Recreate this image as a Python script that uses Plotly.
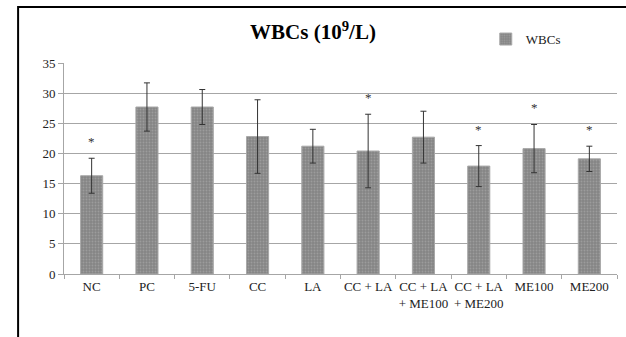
import plotly.graph_objects as go

categories = ["NC", "PC", "5-FU", "CC", "LA", "CC + LA", "CC + LA<br>+ ME100",
              "CC + LA<br>+ ME200", "ME100", "ME200"]
wbc_values = [16.3, 27.7, 27.7, 22.8, 21.2, 20.4, 22.7, 17.9, 20.8, 19.1]
wbc_errors = [2.9, 4.0, 2.9, 6.1, 2.8, 6.1, 4.3, 3.4, 4.0, 2.1]
significant = [True, False, False, False, False, True, False, True, True, True]
y_ticks = [0, 5, 10, 15, 20, 25, 30, 35]

serif = "Liberation Serif"

fig = go.Figure()
fig.add_trace(go.Bar(
    x=categories, y=wbc_values, name="WBCs",
    marker=dict(color="#878787",
                line=dict(color="#a8a8a8", width=1),
                pattern=dict(shape=".", fgcolor="#b4b4b4", bgcolor="#858585",
                             size=3, solidity=0.3)),
    error_y=dict(type="data", array=wbc_errors, visible=True,
                 color="#333333", thickness=1, width=3),
))

for c, v, e, s in zip(categories, wbc_values, wbc_errors, significant):
    if s:
        fig.add_annotation(x=c, y=v + e, text="*", showarrow=False,
                           yanchor="bottom", yshift=7,
                           font=dict(family=serif, size=13, color="#333333"))

fig.add_shape(type="rect", xref="paper", yref="paper",
              x0=-0.083, x1=1.2, y0=-0.6, y1=1.265,
              line=dict(color="black", width=2), fillcolor="rgba(0,0,0,0)")

fig.update_layout(
    width=626, height=337, autosize=False,
    margin=dict(l=64, r=9, t=63, b=63, autoexpand=False),
    paper_bgcolor="white", plot_bgcolor="white",
    bargap=0.6,
    title=dict(text="<b>WBCs (10<sup>9</sup>/L)</b>", x=0.5, xanchor="center",
               y=0.905, yanchor="middle",
               font=dict(family=serif, size=21, color="black")),
    showlegend=True,
    legend=dict(xref="container", yref="container", x=0.776, y=0.884,
                xanchor="left", yanchor="middle",
                font=dict(family=serif, size=13, color="#222222"),
                bgcolor="rgba(0,0,0,0)"),
    font=dict(family=serif, size=13, color="#222222"),
)
fig.update_xaxes(showline=True, linecolor="#a6a6a6", linewidth=1,
                 ticks="outside", tickson="boundaries", ticklen=4,
                 tickcolor="#a6a6a6", showgrid=False, tickangle=0,
                 automargin=False,
                 tickfont=dict(family=serif, size=13, color="#222222"))
fig.update_yaxes(range=[0, 35], tickvals=y_ticks, showline=True,
                 linecolor="#a6a6a6", linewidth=1, ticks="outside", ticklen=5,
                 tickcolor="#a6a6a6", gridcolor="#a6a6a6", gridwidth=1,
                 zeroline=False, automargin=False,
                 tickfont=dict(family=serif, size=13, color="#222222"))

fig.write_html("out.html", config={"responsive": False, "displayModeBar": False},
               post_script="document.body.style.margin='0';document.body.style.overflow='hidden';")
